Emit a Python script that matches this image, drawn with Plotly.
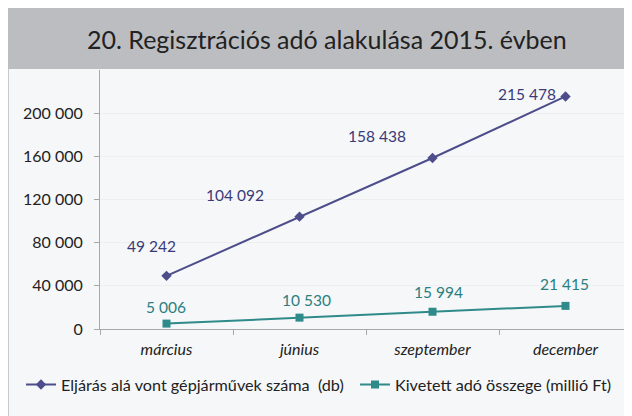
import plotly.graph_objects as go

categories = ["március", "június", "szeptember", "december"]
vehicles = [49242, 104092, 158438, 215478]
tax = [5006, 10530, 15994, 21415]
y_ticks = [0, 40000, 80000, 120000, 160000, 200000]
y_tick_labels = ["0", "40 000", "80 000", "120 000", "160 000", "200 000"]
series_names = ["Eljárás alá vont gépjárművek száma  (db)", "Kivetett adó összege (millió Ft)"]
title_text = "20. Regisztrációs adó alakulása 2015. évben"

# page body has an 8px margin, so the figure fills the rest of the window
W, H = 624, 408
L, R, T, B = 92, 0, 62, 87
PW, PH = W - L - R, H - T - B
PURPLE = "#4d4d8c"
TEAL = "#2f8a8a"
FONT = "Lato"


def px(xp):
    return (xp - L) / PW


def py(yp):
    return (H - B - yp) / PH


def fmt(v):
    return f"{v:,}".replace(",", " ")


fig = go.Figure()
fig.add_trace(go.Scatter(x=categories, y=vehicles, mode="lines+markers", name=series_names[0],
                         line=dict(color=PURPLE, width=2),
                         marker=dict(symbol="diamond", size=8, color=PURPLE),
                         legend="legend"))
fig.add_trace(go.Scatter(x=categories, y=tax, mode="lines+markers", name=series_names[1],
                         line=dict(color=TEAL, width=2),
                         marker=dict(symbol="square", size=8, color=TEAL),
                         legend="legend2"))

purple_shift = [(-15, 30), (-65, 22), (-56, 22), (-39, 2)]
teal_shift = [(-1, 17), (7, 18), (6, 20), (-1, 22)]
anns = []
for c, v, (dx, dy) in zip(categories, vehicles, purple_shift):
    anns.append(dict(x=c, y=v, xref="x", yref="y", text=fmt(v), showarrow=False,
                     xshift=dx, yshift=dy, font=dict(family=FONT, size=15.5, color="#3a3a78")))
for c, v, (dx, dy) in zip(categories, tax, teal_shift):
    anns.append(dict(x=c, y=v, xref="x", yref="y", text=fmt(v), showarrow=False,
                     xshift=dx, yshift=dy, font=dict(family=FONT, size=15.5, color="#2a7f80")))
anns.append(dict(x=px(318.5), y=py(31), xref="paper", yref="paper", text=title_text,
                 showarrow=False, xanchor="center", yanchor="middle",
                 font=dict(family=FONT, size=25, color="#222222")))

shapes = [
    dict(type="rect", xref="paper", yref="paper", x0=px(0), x1=px(W + 2), y0=py(61), y1=py(-2),
         fillcolor="#bcbdc1", line=dict(width=0), layer="below"),
    dict(type="line", xref="paper", yref="paper", x0=px(0.5), x1=px(0.5), y0=py(H + 2), y1=py(61),
         line=dict(color="#c8c9cc", width=1), layer="below"),
]

leg_font = dict(family=FONT, size=16.2, color="#222222")
fig.update_layout(
    width=W, height=H,
    margin=dict(l=L, r=R, t=T, b=B, autoexpand=False),
    paper_bgcolor="#f6f7f8", plot_bgcolor="rgba(0,0,0,0)",
    font=dict(family=FONT, size=14, color="#222222"),
    showlegend=True,
    legend=dict(orientation="h", x=px(13), y=py(377), xanchor="left", yanchor="middle",
                font=leg_font, bgcolor="rgba(0,0,0,0)", itemwidth=30),
    legend2=dict(orientation="h", x=px(347), y=py(377), xanchor="left", yanchor="middle",
                 font=leg_font, bgcolor="rgba(0,0,0,0)", itemwidth=30),
    annotations=anns, shapes=shapes,
)
fig.update_xaxes(type="category", showline=True, linecolor="#a8a8a8", linewidth=1,
                 ticks="outside", ticklen=5, tickcolor="#a8a8a8", tickson="boundaries",
                 showgrid=False, tickfont=dict(family=FONT, size=16, color="#222222", style="italic"),
                 ticklabelstandoff=6, range=[-0.5, 3.5])
fig.update_yaxes(range=[0, 240000], tickvals=y_ticks, ticktext=y_tick_labels,
                 showline=True, linecolor="#a8a8a8", linewidth=1, ticks="outside", ticklen=5,
                 tickcolor="#a8a8a8", showgrid=True, gridcolor="#eceeef", gridwidth=1,
                 zeroline=False, tickfont=dict(family=FONT, size=16, color="#222222"),
                 ticklabelstandoff=8)

fig.write_html("out.html")
